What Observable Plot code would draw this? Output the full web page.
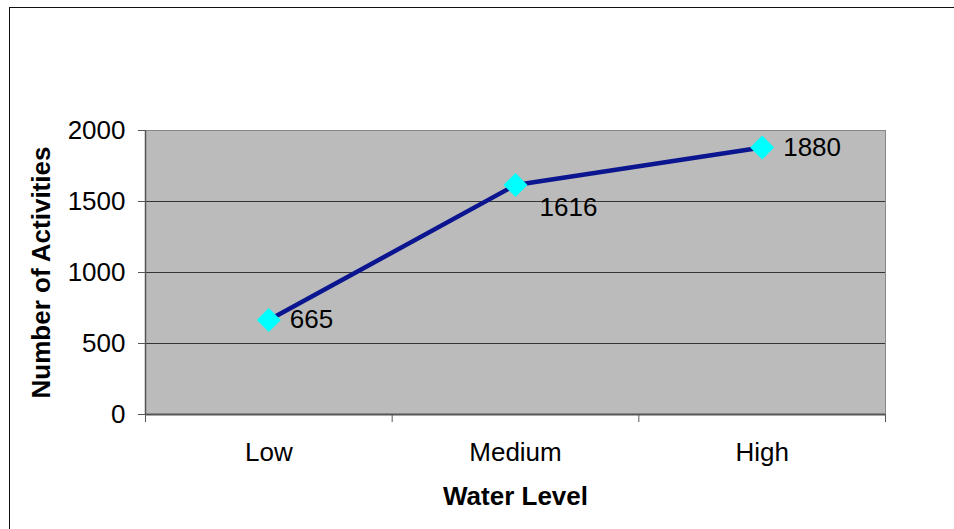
<!DOCTYPE html>
<html>
<head>
<meta charset="utf-8">
<script src="https://cdn.jsdelivr.net/npm/d3@7"></script>
<script src="https://cdn.jsdelivr.net/npm/@observablehq/plot@0.6"></script>
<style>
  html, body { margin: 0; padding: 0; background: #fff; overflow: hidden; }
  #wrap { position: relative; width: 954px; height: 529px; overflow: hidden; }
  #border { position: absolute; left: 9px; top: 7px; width: 1000px; height: 600px; border: 1px solid #111; box-sizing: border-box; }
  #chart { position: absolute; left: 0; top: 0; }
</style>
</head>
<body>
<div id="wrap"><div id="border"></div><div id="chart"></div></div>
<script>
const levels = ["Low", "Medium", "High"];
const counts = [665, 1616, 1880];
const yTicks = [0, 500, 1000, 1500, 2000];
const xTitle = "Water Level";
const yTitle = "Number of Activities";

const data = levels.map((level, i) => ({ level, idx: i + 0.5, count: counts[i] }));

const font = "Liberation Sans, Arial, sans-serif";
const fs = 26;

const chart = Plot.plot({
  width: 954,
  height: 529,
  marginLeft: 145,
  marginRight: 69,
  marginTop: 130,
  marginBottom: 115,
  style: { fontFamily: font, fontSize: fs + "px", color: "#000", background: "transparent" },
  x: { domain: [0, 3] },
  y: { domain: [0, 2000] },
  marks: [
    Plot.frame({ fill: "#bbbbbb" }),
    Plot.ruleY(yTicks.filter(d => d > 0), { stroke: "#333", strokeWidth: 1 }),
    Plot.frame({ stroke: "#888" }),
    Plot.ruleX([0], { stroke: "#555", strokeWidth: 1.5 }),
    Plot.ruleY([0], { stroke: "#555", strokeWidth: 2 }),
    Plot.axisY({ ticks: yTicks, tickSize: 7, tickPadding: 13, tickFormat: d3.format("d"), label: null, stroke: "#555", fontSize: fs }),
    Plot.axisX({ ticks: [0, 1, 2, 3], tickSize: 8, tickFormat: () => "", label: null, stroke: "#555" }),
    Plot.axisX({ ticks: data.map(d => d.idx), tickSize: 0, tickPadding: 28, tickFormat: v => levels[Math.round(v - 0.5)], label: null, fontSize: fs }),
    Plot.text([xTitle], { frameAnchor: "bottom", dy: 90, fontWeight: "bold", fontSize: fs, fill: "#000" }),
    Plot.text([yTitle], { frameAnchor: "left", textAnchor: "middle", dx: -104, rotate: -90, fontWeight: "bold", fontSize: fs, fill: "#000" }),
    Plot.line(data, { x: "idx", y: "count", stroke: "#0c1590", strokeWidth: 4.5 }),
    Plot.dot(data, { x: "idx", y: "count", symbol: "diamond2", r: 10.8, fill: "#00ffff", stroke: "none" }),
    Plot.text(data.filter(d => d.level !== "Medium"), { x: "idx", y: "count", text: d => String(d.count), textAnchor: "start", dx: 21, fontSize: fs, fill: "#000" }),
    Plot.text(data.filter(d => d.level === "Medium"), { x: "idx", y: "count", text: d => String(d.count), textAnchor: "start", dx: 24, dy: 23, fontSize: fs, fill: "#000" })
  ]
});
document.getElementById("chart").appendChild(chart);
</script>
</body>
</html>
